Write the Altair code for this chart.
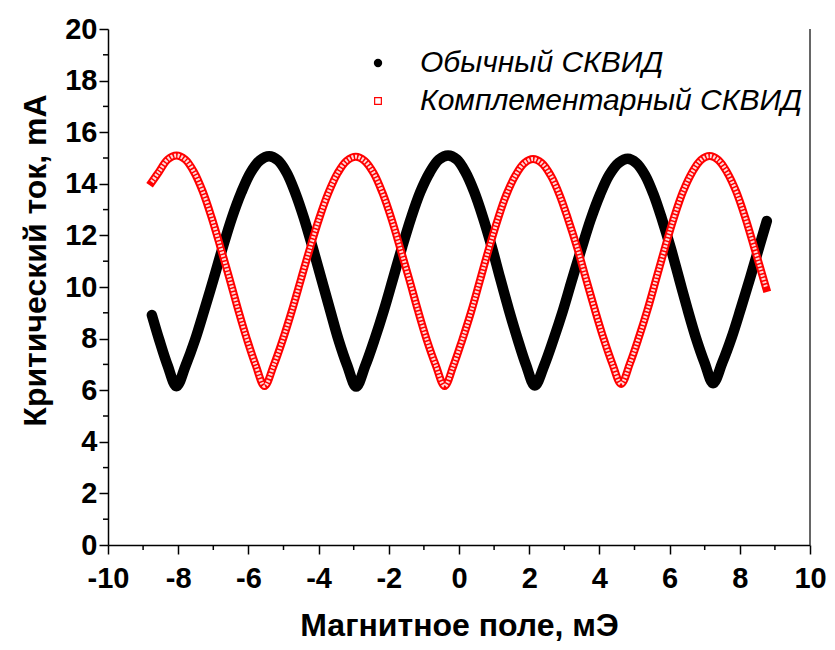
import altair as alt
import pandas as pd

# ---- data ----
black_x = [-8.75, -8.54, -8.30, -8.05,
           -7.79, -7.52, -7.26, -6.99, -6.73, -6.47, -6.20, -5.94, -5.67, -5.41,
           -5.16, -4.91, -4.67, -4.42, -4.17, -3.92, -3.67, -3.43, -3.18, -2.93,
           -2.67, -2.41, -2.14, -1.88, -1.62, -1.36, -1.10, -0.83, -0.57, -0.31,
           -0.06, 0.18, 0.43, 0.68, 0.93, 1.17, 1.42, 1.67, 1.91, 2.16,
           2.43, 2.69, 2.96, 3.22, 3.49, 3.75, 4.02, 4.28, 4.55, 4.81,
           5.05, 5.30, 5.54, 5.78, 6.03, 6.27, 6.51, 6.75, 7.00, 7.24,
           7.50, 7.77, 8.03, 8.30, 8.56, 8.77]
black_y = [8.91, 7.95, 6.95, 6.15,
           6.95, 7.95, 9.09, 10.32, 11.54, 12.68, 13.67, 14.43, 14.91, 15.07,
           14.91, 14.43, 13.67, 12.68, 11.53, 10.31, 9.09, 7.94, 6.94, 6.14,
           6.95, 7.95, 9.10, 10.32, 11.55, 12.70, 13.69, 14.45, 14.94, 15.10,
           14.94, 14.46, 13.70, 12.71, 11.57, 10.35, 9.12, 7.98, 6.98, 6.18,
           6.97, 7.96, 9.08, 10.28, 11.49, 12.61, 13.59, 14.34, 14.81, 14.97,
           14.81, 14.34, 13.60, 12.64, 11.52, 10.33, 9.14, 8.03, 7.05, 6.27,
           7.06, 8.05, 9.17, 10.38, 11.59, 12.56]

red_x = [-8.75, -8.55, -8.30, -8.05,
         -7.80, -7.55, -7.30, -7.05, -6.80, -6.54, -6.29, -6.04, -5.79, -5.54,
         -5.28, -5.02, -4.76, -4.50, -4.24, -3.98, -3.72, -3.46, -3.20, -2.94,
         -2.69, -2.43, -2.18, -1.93, -1.68, -1.42, -1.17, -0.92, -0.66, -0.41,
         -0.16, 0.09, 0.35, 0.60, 0.85, 1.10, 1.35, 1.61, 1.86, 2.11,
         2.36, 2.61, 2.86, 3.11, 3.37, 3.62, 3.87, 4.12, 4.37, 4.62,
         4.87, 5.12, 5.38, 5.63, 5.88, 6.13, 6.38, 6.64, 6.89, 7.14,
         7.39, 7.64, 7.90, 8.15, 8.40, 8.75]
red_y = [14.07, 14.46, 14.94, 15.10,
         14.94, 14.46, 13.70, 12.70, 11.56, 10.33, 9.11, 7.97, 6.96, 6.16,
         6.96, 7.96, 9.09, 10.31, 11.53, 12.67, 13.65, 14.41, 14.89, 15.05,
         14.89, 14.41, 13.65, 12.67, 11.53, 10.31, 9.09, 7.96, 6.96, 6.16,
         6.95, 7.94, 9.06, 10.27, 11.48, 12.60, 13.58, 14.33, 14.80, 14.96,
         14.80, 14.33, 13.59, 12.62, 11.51, 10.31, 9.12, 8.00, 7.02, 6.24,
         7.04, 8.03, 9.16, 10.37, 11.58, 12.71, 13.69, 14.44, 14.92, 15.08,
         14.92, 14.44, 13.69, 12.71, 11.58, 9.96]

major_x = list(range(-10, 11, 2))
minor_x = list(range(-9, 10, 2))
major_y = list(range(0, 21, 2))
minor_y = list(range(1, 20, 2))
legend_labels = ["Обычный СКВИД", "Комплементарный СКВИД"]

x_title = "Магнитное поле, мЭ"
y_title = "Критический ток, mA"

W, H = 702, 516
FONT = "Liberation Sans"
TICK_FS = 29
TITLE_FS = 32
LEG_FS = 30

xscale = alt.Scale(domain=[-10, 10], nice=False, zero=False)
yscale = alt.Scale(domain=[0, 20], nice=False, zero=False)

black_df = pd.DataFrame({"x": black_x, "y": black_y})
red_df = pd.DataFrame({"x": red_x, "y": red_y})

xaxis = alt.Axis(values=major_x, title=x_title, grid=False, tickSize=9, tickWidth=1.5,
                 domainWidth=1.5, domainColor="black", tickColor="black",
                 labelExpr="'' + datum.value",
                 labelFont=FONT, labelFontSize=TICK_FS, labelFontWeight="bold", labelColor="black",
                 labelPadding=24, labelBaseline="middle", labelFlush=False, labelOverlap=False,
                 titleFont=FONT, titleFontSize=TITLE_FS, titleFontWeight="bold", titleColor="black",
                 titleY=80, titleBaseline="middle")
yaxis = alt.Axis(values=major_y, title=y_title, grid=False, tickSize=9, tickWidth=1.5,
                 domainWidth=1.5, domainColor="black", tickColor="black",
                 labelExpr="'' + datum.value",
                 labelFont=FONT, labelFontSize=TICK_FS, labelFontWeight="bold", labelColor="black",
                 labelPadding=2, labelFlush=False, labelOverlap=False,
                 titleFont=FONT, titleFontSize=TITLE_FS, titleFontWeight="bold", titleColor="black",
                 titleX=-73, titleY=231, titleBaseline="middle", titleAngle=270)

X = alt.X("x:Q", scale=xscale, axis=xaxis)
Y = alt.Y("y:Q", scale=yscale, axis=yaxis)

black_line = alt.Chart(black_df).mark_line(
    color="black", strokeWidth=10.5, strokeCap="round", strokeJoin="round", interpolate="catmull-rom"
).encode(x=X, y=Y)

red_band = alt.Chart(red_df).mark_line(
    color="#ff0000", strokeWidth=8, strokeCap="square", strokeJoin="round", interpolate="catmull-rom"
).encode(x=X, y=Y)

red_inner = alt.Chart(red_df).mark_line(
    color="white", strokeWidth=4, strokeDash=[2, 1.5], opacity=0.85, interpolate="catmull-rom"
).encode(x=X, y=Y)

minor_y_ticks = alt.Chart(pd.DataFrame({"y": minor_y})).mark_rule(color="black", strokeWidth=1.5).encode(
    y=Y, x=alt.value(0), x2=alt.value(-5))
minor_x_ticks = alt.Chart(pd.DataFrame({"x": minor_x})).mark_rule(color="black", strokeWidth=1.5).encode(
    x=X, y=alt.value(H), y2=alt.value(H + 5))

right_border = alt.Chart(pd.DataFrame({"x": [10]})).mark_rule(color="#333333", strokeWidth=1.5).encode(
    x=X, y=alt.value(0), y2=alt.value(H))

leg_black = alt.Chart(pd.DataFrame({"label": [legend_labels[0]]})).mark_point(
    shape="circle", filled=True, color="black", size=70, opacity=1
).encode(x=alt.value(270), y=alt.value(34))
leg_red = alt.Chart(pd.DataFrame({"label": [legend_labels[1]]})).mark_point(
    shape="square", filled=False, color="#ff0000", size=45, strokeWidth=1.2, opacity=1
).encode(x=alt.value(270), y=alt.value(72))
leg_text1 = alt.Chart(pd.DataFrame({"label": [legend_labels[0]]})).mark_text(
    align="left", baseline="middle", font=FONT, fontSize=LEG_FS, fontStyle="italic", color="black"
).encode(x=alt.value(312), y=alt.value(34), text="label:N")
leg_text2 = alt.Chart(pd.DataFrame({"label": [legend_labels[1]]})).mark_text(
    align="left", baseline="middle", font=FONT, fontSize=LEG_FS, fontStyle="italic", color="black"
).encode(x=alt.value(312), y=alt.value(72), text="label:N")

chart = alt.layer(
    black_line, red_band, red_inner, minor_y_ticks, minor_x_ticks, right_border,
    leg_black, leg_red, leg_text1, leg_text2
).properties(
    width=W, height=H,
    autosize=alt.AutoSizeParams(type="none"),
    padding={"left": 100, "top": 21, "right": 17, "bottom": 97},
    background="white",
).configure_view(stroke=None)

chart.save("out.html", embed_options={"renderer": "svg", "actions": False})
